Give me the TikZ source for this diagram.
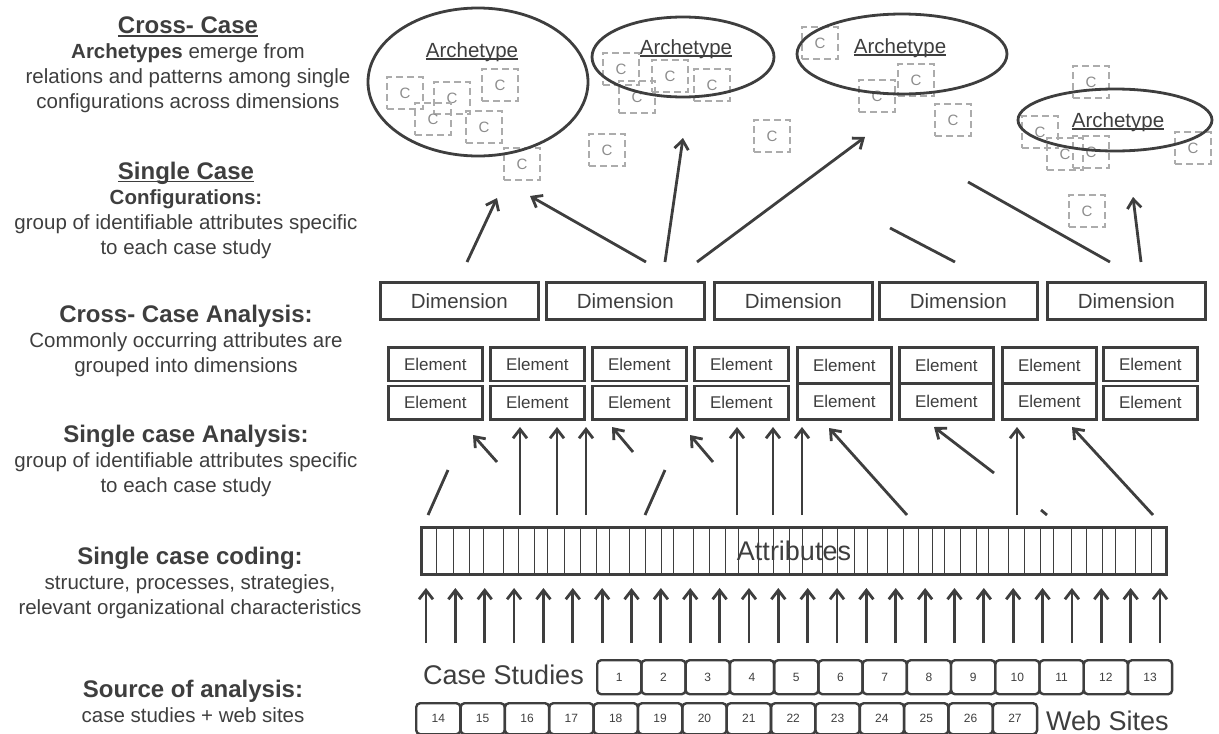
\documentclass[tikz,border=0pt]{standalone}
\usepackage{fontspec}
\setmainfont{Liberation Sans}
\usetikzlibrary{arrows.meta}
\definecolor{ink}{RGB}{62,62,62}
\definecolor{cgray}{RGB}{172,172,172}
\definecolor{cletter}{RGB}{140,140,140}
\newsavebox{\ulbox}
\newcommand{\ulin}[1]{\sbox\ulbox{#1}\rlap{\rule[-2.8pt]{\wd\ulbox}{1.4pt}}\usebox\ulbox}

\tikzset{
  side/.style={align=center, inner sep=0pt, text=ink, font=\fontsize{20.5}{25}\selectfont},
  dimbox/.style={draw=ink, line width=2.6pt, minimum width=158pt, minimum height=37pt, anchor=north west, inner sep=0pt, text=ink, font=\fontsize{20.5}{24}\selectfont},
  elbox/.style={draw=ink, line width=2.6pt, minimum width=94pt, anchor=north west, inner sep=0pt, text=ink, font=\fontsize{17}{20}\selectfont},
  cbox/.style={draw=cgray, dash pattern=on 7pt off 4pt, line width=2.4pt, minimum width=36pt, minimum height=32pt, inner sep=0pt, text=cletter, font=\fontsize{15}{18}\selectfont},
  archring/.style={draw=ink, line width=2.8pt},
  archlbl/.style={anchor=base, inner sep=0pt, text=ink, font=\fontsize{20.5}{24}\selectfont},
  numbox/.style={draw=ink, line width=2.4pt, rounded corners=4pt, anchor=north west, minimum width=44.2pt, inner sep=0pt, text=ink, font=\fontsize{12}{14}\selectfont},
  upar/.style={draw=ink, line width=2.8pt, -{Straight Barb[length=9pt,width=14pt]}},
  plain/.style={draw=ink, line width=2.8pt},
}

\begin{document}
\begin{tikzpicture}[x=1pt, y=-1pt]
\useasboundingbox (0,0) rectangle (1219,734);

% level descriptions on the left
\node[side, anchor=north] (lvcross) at (188,17) {{\fontsize{24}{25}\selectfont\bfseries\ulin{Cross- Case}}\\\textbf{Archetypes} emerge from\\relations and patterns among single\\configurations across dimensions};
\node[side, anchor=north] (lvsingle) at (186,162) {{\fontsize{24}{25}\selectfont\bfseries\ulin{Single Case}}\\\textbf{Configurations:}\\group of identifiable attributes specific\\to each case study};
\node[side, anchor=north] (lvcca) at (186,305) {{\fontsize{24}{25}\selectfont\bfseries Cross- Case Analysis:}\\Commonly occurring attributes are\\grouped into dimensions};
\node[side, anchor=north] (lvsca) at (186,425) {{\fontsize{24}{25}\selectfont\bfseries Single case Analysis:}\\group of identifiable attributes specific\\to each case study};
\node[side, anchor=north] (lvcod) at (190,547) {{\fontsize{24}{25}\selectfont\bfseries Single case coding:}\\structure, processes, strategies,\\relevant organizational characteristics};
\node[side, anchor=north] (lvsrc) at (193,680) {{\fontsize{24}{25}\selectfont\bfseries Source of analysis:}\\case studies + web sites};

% configurations
\foreach \n/\x/\y in {c1/405/93, c2/452/98, c3/500/85, c4/433/119, c5/484/127, c6/522/164,
  c7/607/150, c8/621/69, c9/637/97, c10/670/76, c11/712/85, c12/772/136,
  c13/820/43, c14/916/80, c15/877/96, c16/953/120,
  c17/1091/82, c18/1040/132, c19/1065/154, c20/1091/152, c21/1193/148, c22/1087/211}
  \node[cbox] (\n) at (\x,\y) {C};

% archetypes
\draw[archring] (478,82) ellipse [x radius=110pt, y radius=74pt];
\draw[archring] (683,57) ellipse [x radius=91pt, y radius=40pt];
\draw[archring] (902,54) ellipse [x radius=105pt, y radius=40pt];
\draw[archring] (1115,120) ellipse [x radius=97pt, y radius=31pt];
\node[archlbl] (arch1) at (472,57) {\ulin{Archetype}};
\node[archlbl] (arch2) at (686,54) {\ulin{Archetype}};
\node[archlbl] (arch3) at (900,53) {\ulin{Archetype}};
\node[archlbl] (arch4) at (1118,127) {\ulin{Archetype}};

% dimensions
\foreach \i/\x in {1/379, 2/545, 3/713, 4/878, 5/1046}
  \node[dimbox] (dim\i) at (\x,281) {Dimension};

% elements, two rows
\foreach \i/\x/\g in {1/387/5, 2/489/5, 3/591/5, 4/693/5, 5/796/0, 6/898/0, 7/1001/0, 8/1102/5} {
  \pgfmathsetmacro{\h}{(72-\g)/2}
  \node[elbox, minimum height=\h] (ela\i) at (\x,346) {Element};
  \node[elbox, minimum height=\h] (elb\i) at (\x,{418-\h}) {Element};
}

% attributes
\node[draw=ink, line width=2.6pt, minimum width=745pt, minimum height=47pt, inner sep=0pt] (attr) at (794,551) {};
\foreach \x in {436, 453, 469, 483, 503, 518, 534, 547, 564, 580, 596, 609, 629, 645, 661, 673, 693, 709, 725, 738, 758, 773, 789, 802, 822, 837, 854, 867, 887, 903, 918, 932, 944, 960, 976, 988, 1008, 1024, 1040, 1053, 1071, 1086, 1102, 1115, 1135, 1151}
  \draw[ink, line width=1pt] (\x,0 |- attr.north) -- (\x,0 |- attr.south);
\node[text=ink, font=\fontsize{27}{30}\selectfont, inner sep=0pt] (attrtxt) at (attr.center) {Attributes};

% arrows up to the archetypes
\foreach \n/\x/\y/\u/\v in {u1/467/262/497/198, u2/646/262/530/196, u3/665/262/683/138,
  u4/697/262/865/137, u5/1141/262/1133/197} {
  \coordinate (\n-s) at (\x,\y);
  \coordinate (\n-e) at (\u,\v);
  \draw[upar] (\n-s) -- (\n-e);
}
\coordinate (p1-s) at (890,228); \coordinate (p1-e) at (955,262);
\coordinate (p2-s) at (968,182); \coordinate (p2-e) at (1110,262);
\draw[plain] (p1-s) -- (p1-e);
\draw[plain] (p2-s) -- (p2-e);

% arrows up to the elements
\foreach \n/\x/\y/\u/\v in {e1/497/462/473/435, e2/520/515/520/427, e3/557/515/557/427,
  e4/586/515/586/427, e5/633/452/612/427, e6/713/462/690/435, e7/737/515/737/427,
  e8/773/515/773/427, e9/802/515/802/427, e10/907/515/829/428, e11/994/473/934/427,
  e12/1017/515/1017/427, e13/1153/515/1072/427} {
  \coordinate (\n-s) at (\x,\y);
  \coordinate (\n-e) at (\u,\v);
  \draw[upar] (\n-s) -- (\n-e);
}
\coordinate (q1-s) at (448,470); \coordinate (q1-e) at (428,515);
\coordinate (q2-s) at (665,470); \coordinate (q2-e) at (645,515);
\coordinate (q3-s) at (1041,510); \coordinate (q3-e) at (1047,515);
\draw[plain] (q1-s) -- (q1-e);
\draw[plain] (q2-s) -- (q2-e);
\draw[plain] (q3-s) -- (q3-e);

% arrows up to the attributes
\foreach \i in {0,...,25} {
  \coordinate (src\i) at ({426+29.36*\i},643);
  \coordinate (dst\i) at ({426+29.36*\i},588);
  \draw[upar] (src\i) -- (dst\i);
}

% sources
\foreach \i in {1,...,13}
  \node[numbox, minimum height=34pt] (cs\i) at ({596+44.23*(\i-1)},659) {\i};
\foreach \i in {14,...,27}
  \node[numbox, minimum height=31pt] (ws\i) at ({415+44.36*(\i-14)},702) {\i};
\node[anchor=base east, inner sep=0pt, text=ink, font=\fontsize{27}{30}\selectfont] (cslbl) at (584,684) {Case Studies};
\node[anchor=base west, inner sep=0pt, text=ink, font=\fontsize{27}{30}\selectfont] (wslbl) at (1046,730) {Web Sites};
\end{tikzpicture}
\end{document}
